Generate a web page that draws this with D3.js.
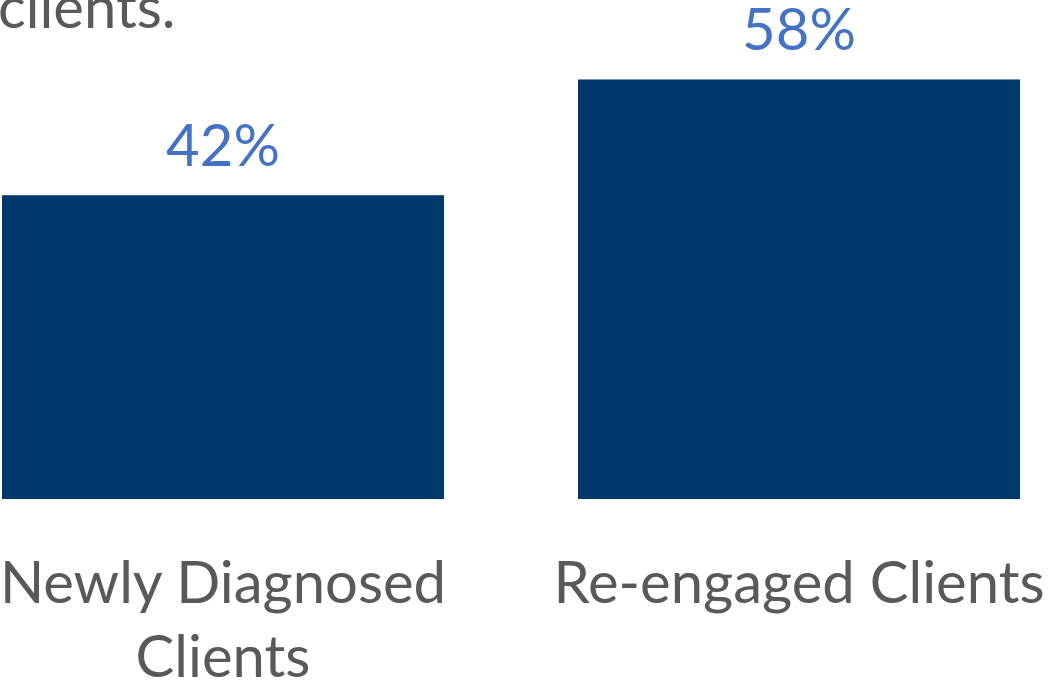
<!DOCTYPE html>
<html lang="en">
  <head>
    <meta charset="utf-8">
    <title>Clients bar chart</title>
    <script src="https://d3js.org/d3.v7.min.js" charset="utf-8"></script>
    <style>
      body { margin: 0; background: #fff; }
      text { font-family: Lato, "Open Sans", sans-serif; }
    </style>
  </head>
  <body>
    <script>
      // chart data
      var categories = ["Newly Diagnosed Clients", "Re-engaged Clients"];
      var categoryLines = [["Newly Diagnosed", "Clients"], ["Re-engaged Clients"]];
      var values = [42, 58];
      var valueLabels = ["42%", "58%"];

      var width = 1048,
          height = 684;

      var svg = d3.select("body").append("svg")
        .attr("width", width)
        .attr("height", height);

      var x = d3.scaleBand()
        .domain(categories)
        .range([-65, 1087])
        .paddingInner(0.2326)
        .paddingOuter(0.1163);

      var y = d3.scaleLinear()
        .domain([0, 60])
        .range([499, 65]);

      // cut-off text from the slide above the chart
      svg.append("text")
        .attr("x", -2)
        .attr("y", 28)
        .style("font-size", "58px")
        .style("fill", "#595959")
        .text("clients.");

      svg.append("g")
        .selectAll("rect")
        .data(values)
        .enter().append("rect")
        .attr("x", function(d, i) { return x(categories[i]); })
        .attr("y", function(d) { return y(d); })
        .attr("width", x.bandwidth())
        .attr("height", function(d) { return y(0) - y(d); })
        .style("fill", "#02396D");

      svg.append("g")
        .selectAll("text")
        .data(values)
        .enter().append("text")
        .attr("x", function(d, i) { return x(categories[i]) + x.bandwidth() / 2; })
        .attr("y", function(d) { return y(d) - 29; })
        .attr("text-anchor", "middle")
        .style("font-size", "58px")
        .style("fill", "#4472C4")
        .text(function(d, i) { return valueLabels[i]; });

      var cat = svg.append("g")
        .selectAll("text")
        .data(categories)
        .enter().append("text")
        .attr("x", function(d) { return x(d) + x.bandwidth() / 2; })
        .attr("y", 603)
        .attr("text-anchor", "middle")
        .style("font-size", "58px")
        .style("fill", "#595959");

      cat.selectAll("tspan")
        .data(function(d, i) { return categoryLines[i]; })
        .enter().append("tspan")
        .attr("x", function() { return d3.select(this.parentNode).attr("x"); })
        .attr("dy", function(d, j) { return j === 0 ? 0 : 74; })
        .text(function(d) { return d; });
    </script>
  </body>
</html>
